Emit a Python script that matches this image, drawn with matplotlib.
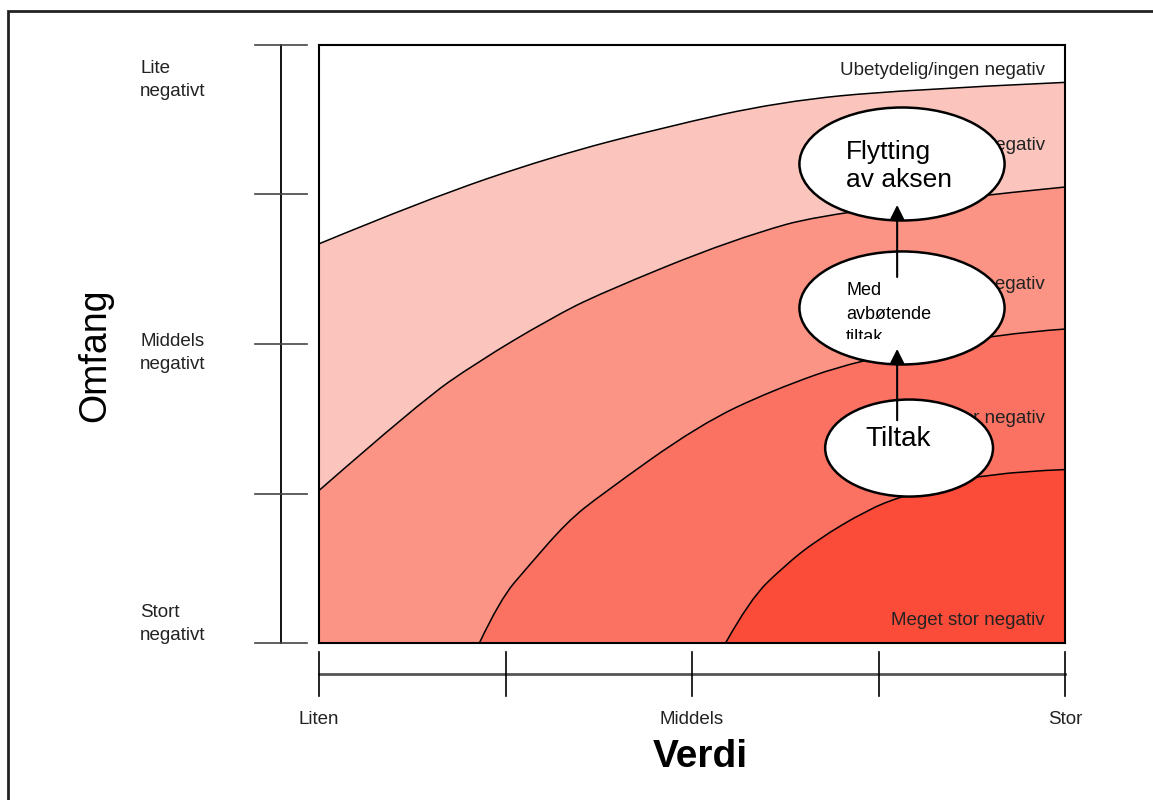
import matplotlib.pyplot as plt
import numpy as np
from matplotlib.patches import Ellipse, Rectangle, FancyArrowPatch, PathPatch
from matplotlib.path import Path
from matplotlib.transforms import Bbox, TransformedBbox

plt.rcParams['font.family'] = ['Liberation Sans', 'DejaVu Sans']

# akser: Verdi (0 = Liten .. 4 = Stor), Omfang (0 = Stort negativt .. 4 = Lite negativt)
verdi_ticks = [0, 1, 2, 3, 4]
verdi_labels = {0: "Liten", 2: "Middels", 4: "Stor"}
omfang_ticks = [0, 1, 2, 3, 4]
omfang_labels = {4: "Lite\nnegativt", 2: "Middels\nnegativt", 0: "Stort\nnegativt"}

# grenser mellom konsekvensgradene (verdi, omfang)
grense_1_x = [0.00, 0.56, 1.24, 1.85, 2.47, 3.12, 4.00]
grense_1_y = [2.67, 2.96, 3.25, 3.45, 3.62, 3.70, 3.75]
grense_2_x = [0.00, 0.54, 0.85, 1.24, 1.51, 2.22, 2.79, 4.00]
grense_2_y = [1.02, 1.61, 1.88, 2.17, 2.34, 2.70, 2.90, 3.05]
grense_3_x = [0.86, 0.97, 1.12, 1.33, 1.51, 2.04, 2.43, 2.88, 3.65, 4.00]
grense_3_y = [0.00, 0.29, 0.51, 0.81, 0.99, 1.46, 1.69, 1.89, 2.07, 2.10]
grense_4_x = [2.18, 2.31, 2.49, 2.67, 2.94, 3.12, 3.56, 4.00]
grense_4_y = [0.00, 0.29, 0.51, 0.69, 0.89, 0.98, 1.14, 1.16]

sone_navn = ["Ubetydelig/ingen negativ", "Liten negativ", "Middels negativ",
             "Stor negativ", "Meget stor negativ"]
sone_y = [3.83, 3.33, 2.40, 1.50, 0.15]
sone_farger = ["#FFFFFF", "#FBC5BE", "#FB9484", "#FC7262", "#FB4B39"]

# tiltak (ellipser): tekst, senter, bredde, hoyde
tiltak_tekst = ["Flytting\nav aksen", "Med\navbøtende\ntiltak", "Tiltak"]
tiltak_x = [3.126, 3.126, 3.164]
tiltak_y = [3.204, 2.241, 1.304]
tiltak_b = [1.10, 1.10, 0.90]
tiltak_h = [0.756, 0.756, 0.649]


def glatt_sti(xs, ys, lukk=None):
    # kvadratisk bezier gjennom midtpunktene -> jevn kurve
    pts = list(zip(xs, ys))
    verts = [pts[0]]
    codes = [Path.MOVETO]
    for i in range(1, len(pts) - 1):
        mid = ((pts[i][0] + pts[i + 1][0]) / 2, (pts[i][1] + pts[i + 1][1]) / 2)
        if i == len(pts) - 2:
            mid = pts[-1]
        verts += [pts[i], mid]
        codes += [Path.CURVE3, Path.CURVE3]
    if lukk:
        for p in lukk:
            verts.append(p)
            codes.append(Path.LINETO)
        verts.append(pts[0])
        codes.append(Path.CLOSEPOLY)
    return Path(verts, codes)


W, H = 1153, 800
fig = plt.figure(figsize=(W / 100, H / 100), dpi=100)
fig.patches.append(Rectangle((8 / W, -0.2), 1.2, 1.2 - 11 / H, transform=fig.transFigure,
                             fill=False, lw=2, ec='#222222'))

ax = fig.add_axes([319 / W, 1 - 643 / H, 746 / W, 598 / H])
ax.set_xlim(0, 4)
ax.set_ylim(0, 4)
ax.set_xticks([])
ax.set_yticks([])
for s in ax.spines.values():
    s.set_linewidth(1.5)
    s.set_zorder(10)

# soner, lag for lag
grenser = [(grense_1_x, grense_1_y), (grense_2_x, grense_2_y),
           (grense_3_x, grense_3_y), (grense_4_x, grense_4_y)]
ax.set_facecolor(sone_farger[0])
for (gx, gy), farge in zip(grenser, sone_farger[1:]):
    ax.add_patch(PathPatch(glatt_sti(gx, gy, lukk=[(4, 0), (gx[0], 0)]),
                           fc=farge, lw=0, zorder=1))
    ax.add_patch(PathPatch(glatt_sti(gx, gy), fill=False, ec='black', lw=1.1, zorder=2))

for navn, y in zip(sone_navn, sone_y):
    ax.text(3.893, y, navn, ha='right', va='center', fontsize=13.5, color='#222222', zorder=3)

# ellipser
for i in range(3):
    ax.add_patch(Ellipse((tiltak_x[i], tiltak_y[i]), tiltak_b[i], tiltak_h[i],
                         fc='white', ec='black', lw=1.8, zorder=5))

ax.text(2.826, 3.19, tiltak_tekst[0], ha='left', va='center', fontsize=19,
        linespacing=1.2, zorder=6)
t = ax.text(2.826, 2.20, tiltak_tekst[1], ha='left', va='center', fontsize=13,
            linespacing=1.5, zorder=6, clip_on=True)
# teksten er kuttet nederst som i originalen
t.set_clip_box(TransformedBbox(Bbox([[2.5, 2.032], [4.0, 3.0]]), ax.transData))
ax.text(2.928, 1.365, tiltak_tekst[2], ha='left', va='center', fontsize=20, zorder=6)

# piler mellom tiltakene
for y0, y1 in [(1.49, 1.967), (2.448, 2.93)]:
    ax.add_patch(FancyArrowPatch((3.10, y0), (3.10, y1), arrowstyle='-|>',
                                 mutation_scale=22, lw=1.5, color='black',
                                 shrinkA=0, shrinkB=0, zorder=7))

# Verdi-skala under
bx = -0.207
ax.plot([verdi_ticks[0], verdi_ticks[-1]], [bx, bx], color='#555555', lw=2, clip_on=False)
for v in verdi_ticks:
    ax.plot([v, v], [-0.06, -0.355], color='black', lw=1.2, clip_on=False)
    if v in verdi_labels:
        ax.text(v, -0.515, verdi_labels[v], ha='center', va='center', fontsize=13.5,
                color='#222222', clip_on=False)

# Omfang-skala til venstre
by = -0.204
ax.plot([by, by], [omfang_ticks[0], omfang_ticks[-1]], color='black', lw=1.3, clip_on=False)
for o in omfang_ticks:
    ax.plot([-0.343, -0.064], [o, o], color='#444444', lw=1.2, clip_on=False)
omfang_txt_y = {4: 80, 2: 353, 0: 624}
for o, lab in omfang_labels.items():
    fig.text(140 / W, 1 - omfang_txt_y[o] / H, lab, ha='left', va='center', fontsize=13.5,
             linespacing=1.45, color='#222222')

fig.text(700 / W, 1 - 757 / H, "Verdi", ha='center', va='center', fontsize=28,
         fontweight='bold')
fig.text(95 / W, 1 - 355 / H, "Omfang", ha='center', va='center', fontsize=27,
         rotation=90)

plt.savefig('out.png', dpi=100)
